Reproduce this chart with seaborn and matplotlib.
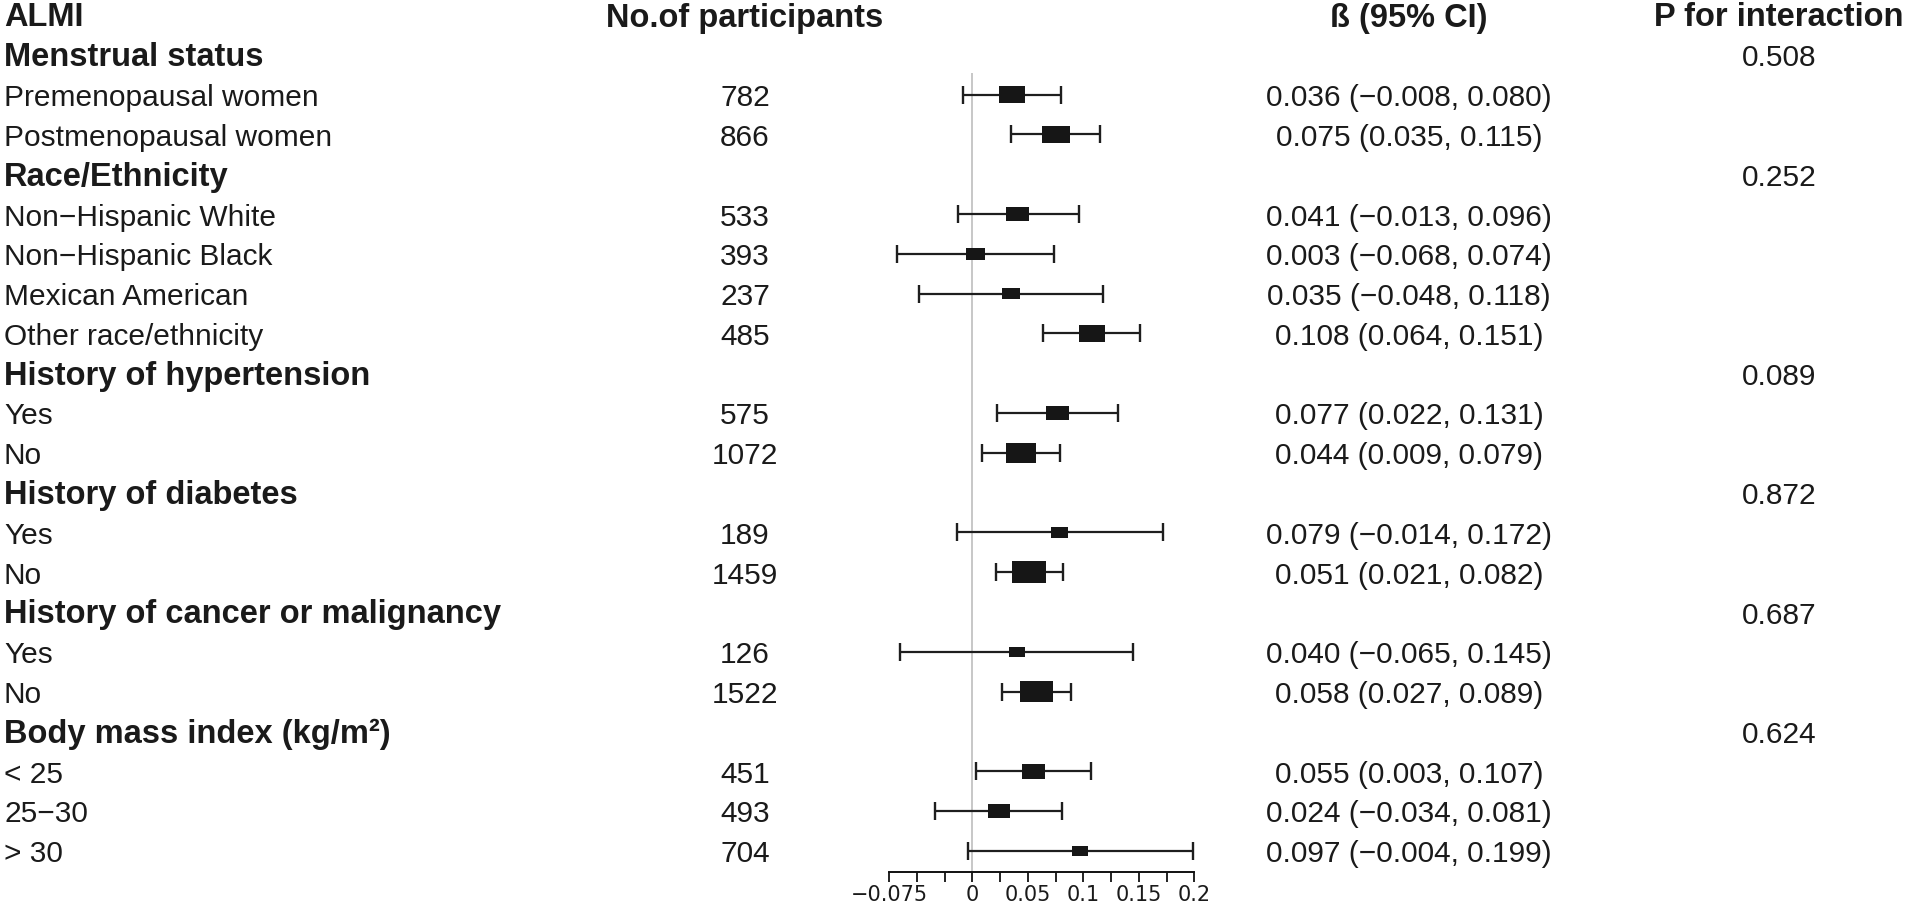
import numpy as np
import pandas as pd
import matplotlib
matplotlib.use("Agg")
import matplotlib.pyplot as plt
import matplotlib.transforms as mtransforms
import seaborn as sns

# Subgroup table, top to bottom (group header rows carry no estimate)
labels = ["Menstrual status", "Premenopausal women", "Postmenopausal women",
          "Race/Ethnicity", "Non\u2212Hispanic White", "Non\u2212Hispanic Black",
          "Mexican American", "Other race/ethnicity",
          "History of hypertension", "Yes", "No",
          "History of diabetes", "Yes", "No",
          "History of cancer or malignancy", "Yes", "No",
          "Body mass index (kg/m\u00b2)", "< 25", "25\u221230", "> 30"]
is_group = [True, False, False,
            True, False, False, False, False,
            True, False, False,
            True, False, False,
            True, False, False,
            True, False, False, False]
n_part = [None, 782, 866,
          None, 533, 393, 237, 485,
          None, 575, 1072,
          None, 189, 1459,
          None, 126, 1522,
          None, 451, 493, 704]
nan = np.nan
beta = [nan, 0.036, 0.075,
        nan, 0.041, 0.003, 0.035, 0.108,
        nan, 0.077, 0.044,
        nan, 0.079, 0.051,
        nan, 0.040, 0.058,
        nan, 0.055, 0.024, 0.097]
ci_lo = [nan, -0.008, 0.035,
         nan, -0.013, -0.068, -0.048, 0.064,
         nan, 0.022, 0.009,
         nan, -0.014, 0.021,
         nan, -0.065, 0.027,
         nan, 0.003, -0.034, -0.004]
ci_hi = [nan, 0.080, 0.115,
         nan, 0.096, 0.074, 0.118, 0.151,
         nan, 0.131, 0.079,
         nan, 0.172, 0.082,
         nan, 0.145, 0.089,
         nan, 0.107, 0.081, 0.199]
p_inter = ["0.508", "", "",
           "0.252", "", "", "", "",
           "0.089", "", "",
           "0.872", "", "",
           "0.687", "", "",
           "0.624", "", "", ""]

x_ticks = [-0.075, -0.05, -0.025, 0, 0.025, 0.05, 0.075, 0.1, 0.125, 0.15, 0.175, 0.2]
x_ticklabels = ["\u22120.075", "", "", "0", "", "0.05", "", "0.1", "", "0.15", "", "0.2"]

df = pd.DataFrame({"label": labels, "group": is_group, "n": n_part,
                   "beta": beta, "lo": ci_lo, "hi": ci_hi, "p": p_inter})
df["row"] = np.arange(1, len(df) + 1)

sns.set_theme(style="white")
plt.rcParams['font.family'] = ['Liberation Sans', 'DejaVu Sans']

TXT = "#1a1a1a"
W, H = 1907, 908
fig = plt.figure(figsize=(W / 100, H / 100), dpi=100)
fig.patch.set_facecolor("white")

# forest panel: x axis line sits at pixel row 872
x0_px, x1_px = 889, 1194.3
axis_px = 872
row0_px, row_step = 15, 39.8
ax = fig.add_axes([x0_px / W, 1 - axis_px / H, (x1_px - x0_px) / W, axis_px / H])
ax.set_xlim(x_ticks[0], x_ticks[-1])
ymax = (axis_px - row0_px) / row_step
ax.set_ylim(ymax, -row0_px / row_step)
px_per_unit = (x1_px - x0_px) / (x_ticks[-1] - x_ticks[0])

est = df[~df["group"]].copy()

# reference line at 0
ax.vlines(0, (73 - row0_px) / row_step, ymax, color="#b8b8b8", lw=1.1, zorder=1)

ax.errorbar(est["beta"], est["row"],
            xerr=[est["beta"] - est["lo"], est["hi"] - est["beta"]],
            fmt="none", ecolor="#1e1e1e", elinewidth=1.6, capsize=6.5,
            capthick=1.7, zorder=2, clip_on=False)

# box size grows with precision (1 / CI width)
prec = 1.0 / (est["hi"] - est["lo"])
box_w = (8.7 + 1.54 * prec) / px_per_unit
box_h = (5.6 + 0.97 * prec) / row_step
ax.barh(est["row"], width=box_w, left=est["beta"] - box_w / 2, height=box_h,
        color="#161616", edgecolor="none", zorder=3)

sns.despine(ax=ax, left=True, top=True, right=True)
ax.spines["bottom"].set_linewidth(1.4)
ax.spines["bottom"].set_color("#111111")
ax.set_yticks([])
ax.set_xticks(x_ticks)
ax.set_xticklabels(x_ticklabels, fontfamily="DejaVu Sans", fontsize=15, color=TXT)
ax.tick_params(axis="x", direction="out", length=7.2, width=1.3, color="#111111",
               pad=2, bottom=True)
ax.set_xlabel("")
ax.set_ylabel("")
ax.patch.set_alpha(0)

# table text
tr = mtransforms.blended_transform_factory(fig.transFigure, ax.transData)
tr = mtransforms.offset_copy(tr, fig=fig, x=0, y=-11.5, units="dots")
REG, BOLD = 21.5, 23.5

def put(xpx, row, s, ha="left", bold=False):
    ax.text(xpx / W, row, s, transform=tr, ha=ha, va="baseline",
            fontsize=BOLD if bold else REG, fontweight="bold" if bold else "normal",
            color=TXT, clip_on=False)

col_label, col_n, col_ci, col_p = 4, 745, 1409, 1779
put(col_label, 0, "ALMI", bold=True)
put(col_n, 0, "No.of participants", ha="center", bold=True)
put(col_ci, 0, "\u00df (95% CI)", ha="center", bold=True)
put(col_p, 0, "P for interaction", ha="center", bold=True)

for _, r in df.iterrows():
    put(col_label, r["row"], r["label"], bold=r["group"])
    if r["group"]:
        put(col_p, r["row"], r["p"], ha="center")
    else:
        put(col_n, r["row"], f"{int(r['n'])}", ha="center")
        ci = f"{r['beta']:.3f} ({r['lo']:.3f}, {r['hi']:.3f})".replace("-", "\u2212")
        put(col_ci, r["row"], ci, ha="center")

fig.savefig("out.png", dpi=100)
